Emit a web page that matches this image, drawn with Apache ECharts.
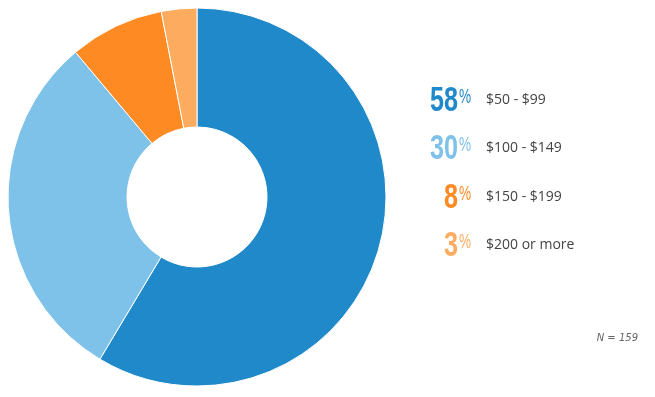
<!DOCTYPE html>
<html>
<head>
<meta charset="utf-8">
<script src="https://cdn.jsdelivr.net/npm/echarts@6/dist/echarts.min.js"></script>
<style>
  html, body { margin: 0; padding: 0; background: #fff; }
  #chart { width: 655px; height: 397px; }
</style>
</head>
<body>
<div id="chart"></div>
<script>
// price bands and share of respondents
var categories = ['$50 - $99', '$100 - $149', '$150 - $199', '$200 or more']
var percents = [58, 30, 8, 3]
var colors = ['#2089c9', '#7ec1e9', '#fd8a22', '#fdab5f']
var note = 'N = 159'

var chart = echarts.init(document.getElementById('chart'))

// legend rows drawn as graphic text; the big numbers are squeezed to look condensed
var rows = []
for (var i = 0; i < categories.length; i++) {
  var y = 100 + i * 48.5
  rows.push({
    type: 'text', x: 458, y: y + 1, scaleX: 0.72, scaleY: 1,
    style: {
      text: String(percents[i]), fill: colors[i],
      font: 'bold 35px "Liberation Sans", sans-serif',
      textAlign: 'right', textVerticalAlign: 'middle'
    }
  })
  rows.push({
    type: 'text', x: 459, y: y - 13, scaleX: 0.68, scaleY: 1,
    style: {
      text: '%', fill: colors[i],
      font: '20px "Liberation Sans", sans-serif',
      textAlign: 'left', textVerticalAlign: 'top'
    }
  })
  rows.push({
    type: 'text', x: 486, y: y,
    style: {
      text: categories[i], fill: '#444',
      font: '14px "Open Sans", sans-serif',
      textAlign: 'left', textVerticalAlign: 'middle'
    }
  })
}
rows.push({
  type: 'text', x: 638, y: 338,
  style: {
    text: note, fill: '#666',
    font: 'italic 10px "DejaVu Sans", sans-serif',
    textAlign: 'right', textVerticalAlign: 'middle'
  }
})

chart.setOption({
  animation: false,
  color: colors,
  graphic: rows,
  series: [
    {
      type: 'pie',
      center: [197, 197],
      radius: [70, 189],
      startAngle: 90,
      clockwise: true,
      label: { show: false },
      labelLine: { show: false },
      itemStyle: { borderColor: '#fff', borderWidth: 1 },
      data: categories.map(function (c, i) {
        return { name: c, value: percents[i] }
      })
    }
  ]
})
</script>
</body>
</html>
